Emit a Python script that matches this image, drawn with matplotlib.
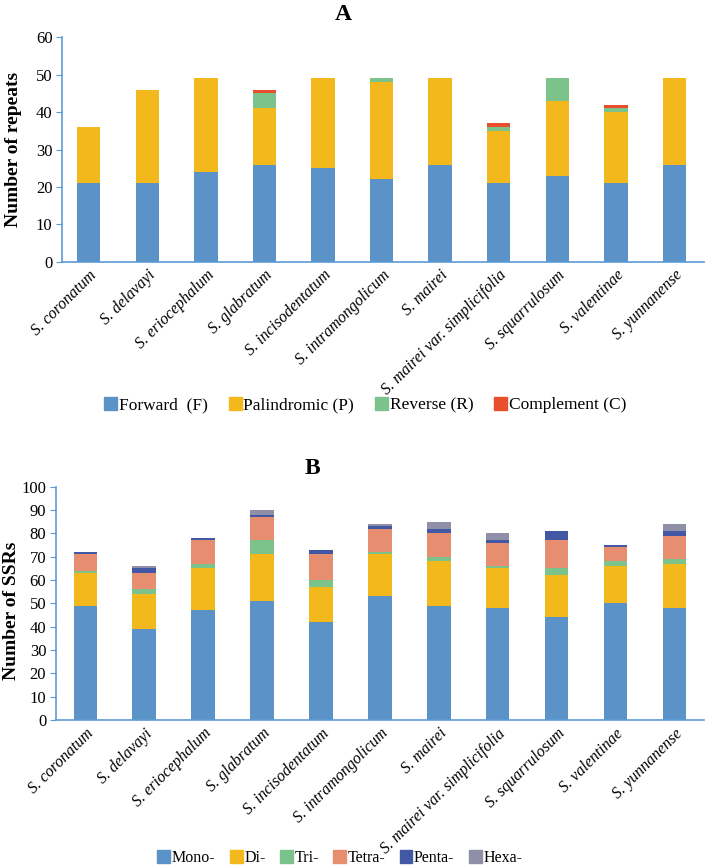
"""
Repeat and SSR counts across Saussurea chloroplast genomes - two stacked bar panels
"""

import numpy as np
import matplotlib
matplotlib.use('Agg')
import matplotlib.pyplot as plt
from matplotlib.patches import Patch

plt.rcParams['font.family'] = ['Liberation Serif', 'DejaVu Serif']

species = ['S. coronatum', 'S. delavayi', 'S. eriocephalum', 'S. glabratum',
           'S. incisodentatum', 'S. intramongolicum', 'S. mairei',
           'S. mairei var. simplicifolia', 'S. squarrulosum', 'S. valentinae',
           'S. yunnanense']

# panel A: repeat types
forward = [21, 21, 24, 26, 25, 22, 26, 21, 23, 21, 26]
palindromic = [15, 25, 25, 15, 24, 26, 23, 14, 20, 19, 23]
reverse = [0, 0, 0, 4, 0, 1, 0, 1, 6, 1, 0]
complement = [0, 0, 0, 1, 0, 0, 0, 1, 0, 1, 0]
repeat_labels = ['Forward  (F)', 'Palindromic (P)', 'Reverse (R)', 'Complement (C)']

# panel B: SSR types
mono = [49, 39, 47, 51, 42, 53, 49, 48, 44, 50, 48]
di = [14, 15, 18, 20, 15, 18, 19, 17, 18, 16, 19]
tri = [1, 2, 2, 6, 3, 1, 2, 1, 3, 2, 2]
tetra = [7, 7, 10, 10, 11, 10, 10, 10, 12, 6, 10]
penta = [1, 2, 1, 1, 2, 1, 2, 1, 4, 1, 2]
hexa = [0, 1, 0, 2, 0, 1, 3, 3, 0, 0, 3]
ssr_labels = ['Mono-', 'Di-', 'Tri-', 'Tetra-', 'Penta-', 'Hexa-']

colors_a = ['#5B93C8', '#F3B81B', '#7CC38B', '#E8502D']
colors_b = ['#5B93C8', '#F3B81B', '#7CC38B', '#E78D70', '#4358A5', '#8F8FA8']
spine_col = '#5B9BD5'


def stacked(ax, series, colors):
    x = np.arange(len(species))
    bottom = np.zeros(len(species))
    for vals, c in zip(series, colors):
        ax.bar(x, vals, width=0.4, bottom=bottom, color=c, zorder=2)
        bottom += np.array(vals)
    ax.set_xticks(x)
    ax.set_xticklabels(species, rotation=45, ha='right', va='top',
                       rotation_mode='anchor', fontstyle='italic', fontsize=11.5)
    for s in ['top', 'right']:
        ax.spines[s].set_visible(False)
    for s in ['left', 'bottom']:
        ax.spines[s].set_color(spine_col)
        ax.spines[s].set_linewidth(1.2)
    ax.tick_params(axis='x', length=0, pad=4)
    ax.tick_params(axis='y', direction='out', length=4, color=spine_col,
                   labelsize=12, pad=3)


fig = plt.figure(figsize=(7.08, 8.67), dpi=100)

ax1 = fig.add_axes([0.088, 0.698, 0.906, 0.259])
stacked(ax1, [forward, palindromic, reverse, complement], colors_a)
ax1.set_xlim(-0.45, 10.5)
ax1.set_ylim(0, 60)
ax1.set_yticks(range(0, 61, 10))
ax1.set_ylabel('Number of repeats', fontsize=14, fontweight='bold')
ax1.yaxis.set_label_coords(-0.063, 0.5)
fig.text(343 / 708, 1 - 15 / 867, 'A', fontsize=17, fontweight='bold',
         ha='center', va='center')
handles = [Patch(color=c, label=l) for c, l in zip(colors_a, repeat_labels)]
fig.legend(handles=handles, loc='center', bbox_to_anchor=(0.516, 1 - 405 / 867),
           ncol=4, frameon=False, fontsize=12.5, handlelength=0.75, handleheight=0.75,
           handletextpad=0.1, columnspacing=1.2)

ax2 = fig.add_axes([0.079, 0.1696, 0.915, 0.269])
stacked(ax2, [mono, di, tri, tetra, penta, hexa], colors_b)
ax2.set_xlim(-0.5, 10.5)
ax2.set_ylim(0, 100)
ax2.set_yticks(range(0, 101, 10))
ax2.set_ylabel('Number of SSRs', fontsize=14, fontweight='bold')
ax2.yaxis.set_label_coords(-0.056, 0.47)
fig.text(312 / 708, 1 - 468 / 867, 'B', fontsize=17, fontweight='bold',
         ha='center', va='center')
handles = [Patch(color=c, label=l) for c, l in zip(colors_b, ssr_labels)]
fig.legend(handles=handles, loc='center', bbox_to_anchor=(0.48, 1 - 858 / 867),
           ncol=6, frameon=False, fontsize=11.5, handlelength=0.8, handleheight=0.8,
           handletextpad=0.1, columnspacing=0.9)

fig.savefig('out.png', dpi=100)
